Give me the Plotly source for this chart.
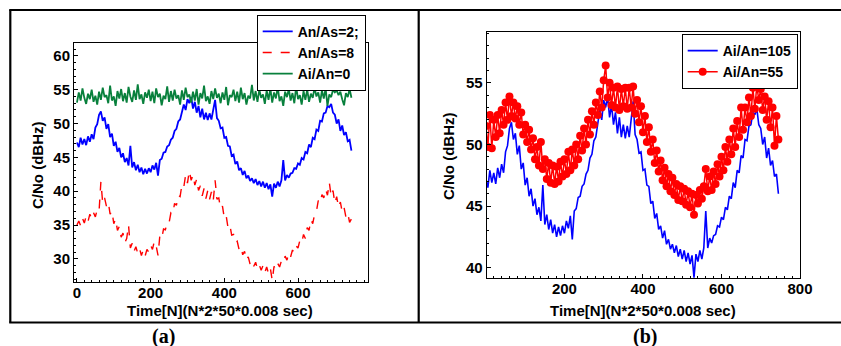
import plotly.graph_objects as go

W, H = 841, 346

# sample index (N), one value every 5 samples
sample_n = list(range(0, 750, 5))

# An/As=2 (blue) -- same series appears in both panels
cn0_an_as_2 = [
    47.2, 46.5, 47.9, 46.9, 47.7, 46.8, 48.1, 47.3, 48.4, 47.7,
    49.4, 49.9, 51.3, 51.8, 50.4, 50.9, 49.2, 49.9, 48.0, 48.5,
    46.7, 47.3, 45.8, 46.4, 45.0, 45.6, 44.3, 44.9, 43.8, 46.7,
    43.5, 44.3, 43.1, 43.9, 42.8, 43.5, 42.5, 43.3, 42.6, 43.4,
    42.8, 43.8, 43.2, 44.2, 42.3, 44.6, 44.8, 45.7, 45.8, 46.6,
    46.8, 47.6, 47.9, 48.9, 49.2, 50.3, 50.6, 51.9, 52.8, 52.0,
    53.6, 53.0, 53.9, 52.2, 53.2, 51.6, 52.6, 50.9, 52.2, 50.6,
    51.6, 50.5, 51.5, 50.6, 51.9, 53.5, 50.8, 50.4, 49.3, 49.4,
    47.9, 48.0, 46.7, 46.6, 45.2, 45.4, 44.0, 44.4, 43.1, 43.4,
    42.4, 43.0, 41.9, 42.3, 41.5, 41.9, 41.2, 41.8, 40.9, 41.5,
    40.7, 41.4, 40.5, 41.2, 40.3, 41.0, 39.2, 41.1, 40.5, 41.4,
    40.7, 41.6, 44.6, 41.6, 42.4, 42.0, 42.6, 42.7, 43.4, 43.3,
    44.1, 43.9, 44.9, 44.7, 45.8, 45.6, 46.9, 46.5, 47.9, 47.7,
    49.1, 48.9, 50.4, 50.3, 51.5, 51.6, 52.6, 52.4, 52.9, 51.6,
    51.3, 50.0, 50.6, 48.9, 49.7, 48.3, 48.7, 47.4, 47.6, 46.0,
]

# An/As=8 (red dashed)
cn0_an_as_8 = [
    35.0, 35.6, 34.9, 36.0, 35.3, 36.3, 35.5, 36.6, 35.9, 36.8,
    36.2, 37.3, 37.0, 41.4, 38.2, 39.0, 37.8, 38.4, 36.6, 37.1,
    35.2, 35.9, 34.2, 34.8, 33.2, 33.8, 32.4, 33.0, 35.0, 31.6,
    32.3, 31.1, 31.8, 30.8, 31.5, 30.5, 31.3, 30.4, 31.4, 31.0,
    32.0, 31.4, 32.6, 31.9, 30.5, 33.4, 33.0, 34.4, 34.3, 35.4,
    35.3, 36.8, 36.6, 38.2, 37.9, 39.4, 39.2, 41.0, 40.6, 42.4,
    41.2, 43.0, 41.6, 42.4, 40.9, 41.8, 40.1, 40.8, 39.3, 40.4,
    38.9, 40.1, 38.8, 39.9, 38.6, 41.6, 38.8, 39.0, 37.4, 37.8,
    36.0, 36.4, 34.6, 35.0, 33.5, 33.6, 32.4, 32.6, 31.4, 31.8,
    30.6, 31.1, 29.8, 30.3, 29.2, 29.7, 28.9, 29.5, 28.5, 29.1,
    28.3, 29.0, 28.0, 28.8, 27.8, 28.6, 26.8, 28.9, 28.4, 29.3,
    28.8, 29.7, 29.4, 30.4, 29.8, 30.9, 30.3, 31.3, 30.9, 31.9,
    31.6, 32.7, 32.3, 33.6, 33.0, 34.6, 34.2, 35.8, 35.2, 36.6,
    37.0, 38.6, 38.2, 39.5, 39.0, 40.3, 39.4, 41.3, 39.2, 40.1,
    38.2, 39.2, 37.6, 38.4, 36.9, 37.6, 36.2, 36.8, 35.4, 35.9,
]

# Ai/An=0 (green)
cn0_ai_an_0 = [
    53.1, 54.6, 53.4, 55.2, 53.8, 52.9, 54.4, 53.6, 55.0, 53.2,
    54.1, 52.8, 54.7, 53.5, 55.3, 53.9, 54.2, 53.0, 55.6, 53.4,
    54.0, 52.6, 54.8, 53.7, 55.1, 53.3, 54.5, 53.1, 55.4, 54.0,
    53.2, 54.9, 53.5, 55.8, 53.6, 54.3, 52.9, 54.6, 53.8, 55.0,
    53.3, 54.7, 53.0, 55.2, 53.9, 54.4, 52.7, 54.1, 53.6, 55.5,
    53.2, 54.8, 53.4, 55.0, 53.7, 54.2, 52.8, 54.9, 53.5, 55.3,
    53.9, 54.3, 53.1, 54.7, 53.4, 55.1, 52.8, 54.5, 53.7, 55.6,
    53.3, 54.0, 52.9, 54.8, 53.6, 55.2, 53.8, 54.4, 53.0, 54.6,
    53.5, 55.4, 52.7, 54.2, 53.9, 55.0, 53.3, 54.7, 53.1, 55.3,
    53.6, 54.5, 52.8, 54.1, 53.7, 55.7, 53.4, 54.8, 53.2, 55.0,
    53.8, 54.3, 52.9, 54.9, 53.5, 55.2, 53.1, 54.6, 53.7, 55.4,
    53.3, 54.0, 52.6, 54.7, 53.9, 55.1, 53.4, 54.5, 53.0, 55.5,
    53.6, 54.2, 52.8, 54.8, 53.5, 55.0, 53.2, 54.4, 53.8, 55.3,
    54.0, 54.6, 53.1, 54.9, 53.7, 55.2, 52.6, 54.3, 53.9, 55.0,
    54.6, 54.9, 54.2, 54.7, 53.6, 52.7, 54.5, 53.9, 55.1, 53.8,
]

# Ai/An=55 (red with markers)
cn0_ai_an_55 = [
    51.5, 49.8, 52.4, 49.7, 52.0, 50.6, 52.4, 50.9, 52.8, 51.6,
    53.4, 52.0, 53.9, 52.3, 53.4, 52.1, 53.1, 51.6, 52.6, 50.8,
    51.6, 50.2, 51.2, 49.6, 50.5, 48.8, 49.8, 48.3, 50.2, 48.0,
    48.8, 47.2, 48.5, 46.9, 48.3, 46.8, 48.2, 47.0, 48.6, 47.4,
    48.8, 47.6, 49.4, 47.9, 49.6, 48.3, 50.0, 48.8, 50.7, 49.5,
    51.3, 50.0, 52.0, 50.8, 52.7, 51.6, 53.4, 52.4, 54.3, 53.0,
    55.2, 56.4, 53.8, 55.0, 53.2, 54.6, 53.0, 54.7, 52.8, 54.5,
    53.1, 54.6, 52.9, 54.6, 53.0, 54.7, 52.5, 53.6, 51.8, 53.1,
    51.0, 52.3, 50.2, 51.4, 49.4, 50.4, 48.5, 49.5, 47.8, 48.7,
    47.1, 48.1, 46.6, 47.6, 46.2, 47.3, 45.9, 46.8, 45.5, 46.6,
    45.4, 46.4, 45.1, 46.2, 44.9, 46.0, 44.3, 45.9, 45.2, 46.3,
    45.6, 46.6, 48.0, 46.2, 47.4, 46.3, 47.8, 46.8, 48.4, 47.4,
    49.0, 47.9, 49.8, 48.6, 50.4, 49.2, 51.3, 49.8, 51.9, 50.6,
    53.0, 51.2, 53.0, 51.8, 53.8, 52.3, 54.6, 52.9, 54.8, 53.6,
    54.5, 52.8, 53.9, 52.0, 53.5, 51.4, 53.0, 49.9, 52.3, 50.4,
]

left_xticks = [0, 200, 400, 600]
left_yticks = [30, 35, 40, 45, 50, 55, 60]
right_xticks = [200, 400, 600, 800]
right_yticks = [40, 45, 50, 55]

BLUE = "#0000ff"
RED = "#ff0000"
GREEN = "#08803c"
FONT = "Liberation Sans"

def px(x):
    return x / W

def py(y):
    return 1 - y / H

fig = go.Figure()

fig.add_trace(go.Scatter(x=sample_n, y=cn0_an_as_2, name="An/As=2;", mode="lines",
                         line=dict(color=BLUE, width=1.8), xaxis="x", yaxis="y", legend="legend"))
fig.add_trace(go.Scatter(x=sample_n, y=cn0_an_as_8, name="An/As=8", mode="lines",
                         line=dict(color=RED, width=1.4, dash="dash"), xaxis="x", yaxis="y", legend="legend"))
fig.add_trace(go.Scatter(x=sample_n, y=cn0_ai_an_0, name="Ai/An=0", mode="lines",
                         line=dict(color=GREEN, width=1.8), xaxis="x", yaxis="y", legend="legend"))

fig.add_trace(go.Scatter(x=sample_n, y=cn0_an_as_2, name="Ai/An=105", mode="lines",
                         line=dict(color=BLUE, width=1.6), xaxis="x2", yaxis="y2", legend="legend2"))
fig.add_trace(go.Scatter(x=sample_n, y=cn0_ai_an_55, name="Ai/An=55", mode="lines+markers",
                         line=dict(color=RED, width=1.5), marker=dict(color=RED, size=8),
                         xaxis="x2", yaxis="y2", legend="legend2"))

tickfont = dict(family=FONT, size=15, color="black", weight="bold")
axis_common = dict(showline=True, mirror=True, linecolor="black", linewidth=1,
                   ticks="inside", ticklen=4, tickcolor="black", showgrid=False,
                   zeroline=False, tickfont=tickfont, automargin=False)
xstand = dict(ticklabelstandoff=-3)

fig.update_layout(
    width=W, height=H, autosize=False,
    margin=dict(l=0, r=0, t=0, b=0, pad=0),
    paper_bgcolor="white", plot_bgcolor="white",
    xaxis=dict(domain=[px(74), px(368)], range=[-8, 790], tickvals=left_xticks,
               anchor="y", minor=dict(ticks="inside", ticklen=2, dtick=20, tickcolor="black"),
               **axis_common, **xstand),
    yaxis=dict(domain=[py(281.5), py(43)], range=[26.65, 61.9], tickvals=left_yticks,
               anchor="x", minor=dict(ticks="inside", ticklen=2, dtick=1, tickcolor="black"),
               **axis_common),
    xaxis2=dict(domain=[px(486.7), px(800)], range=[2, 800], tickvals=right_xticks,
                anchor="y2", minor=dict(ticks="inside", ticklen=2, dtick=20, tickcolor="black"),
                **axis_common, **xstand),
    yaxis2=dict(domain=[py(278.3), py(32.3)], range=[39.14, 59.1], tickvals=right_yticks,
                anchor="x2", minor=dict(ticks="inside", ticklen=2, dtick=1, tickcolor="black"),
                **axis_common),
    legend=dict(x=px(365.7), y=py(14.7), xanchor="right", yanchor="top",
                bgcolor="white", bordercolor="black", borderwidth=1,
                font=dict(family=FONT, size=14, color="black", weight="bold")),
    legend2=dict(x=px(797.7), y=py(34), xanchor="right", yanchor="top",
                 bgcolor="white", bordercolor="black", borderwidth=1,
                 font=dict(family=FONT, size=14, color="black", weight="bold")),
    showlegend=True,
)

title_font = dict(family=FONT, size=15, color="black", weight="bold")
xtitle = "Time[N](N*2*50*0.008 sec)"
ytitle = "C/No (dBHz)"
annos = [
    dict(x=px(220), y=py(310.5), text=xtitle, font=title_font),
    dict(x=px(642.5), y=py(310.5), text=xtitle, font=title_font),
    dict(x=px(38), y=py(166), text=ytitle, textangle=-90, font=title_font),
    dict(x=px(448), y=py(157), text=ytitle, textangle=-90, font=title_font),
    dict(x=px(163), y=py(336), text="(a)",
         font=dict(family="Liberation Serif", size=20, color="black", weight="bold")),
    dict(x=px(645), y=py(336), text="(b)",
         font=dict(family="Liberation Serif", size=20, color="black", weight="bold")),
]
for a in annos:
    a.update(xref="paper", yref="paper", xanchor="center", yanchor="middle", showarrow=False)
fig.update_layout(annotations=annos)

border = dict(color="black", width=2.2)
shapes = [
    dict(type="line", x0=px(10.3), x1=px(10.3), y0=py(10), y1=py(322.5)),
    dict(type="line", x0=px(418.7), x1=px(418.7), y0=py(10), y1=py(322.5)),
    dict(type="line", x0=px(9.2), x1=1, y0=py(10), y1=py(10)),
    dict(type="line", x0=px(9.2), x1=1, y0=py(322.5), y1=py(322.5)),
]
for s in shapes:
    s.update(xref="paper", yref="paper", line=border, layer="above")
fig.update_layout(shapes=shapes)

fig.write_html(
    "out.html",
    config={"displayModeBar": False, "responsive": False},
    post_script="document.body.style.margin='0';document.body.style.overflow='hidden';",
)
